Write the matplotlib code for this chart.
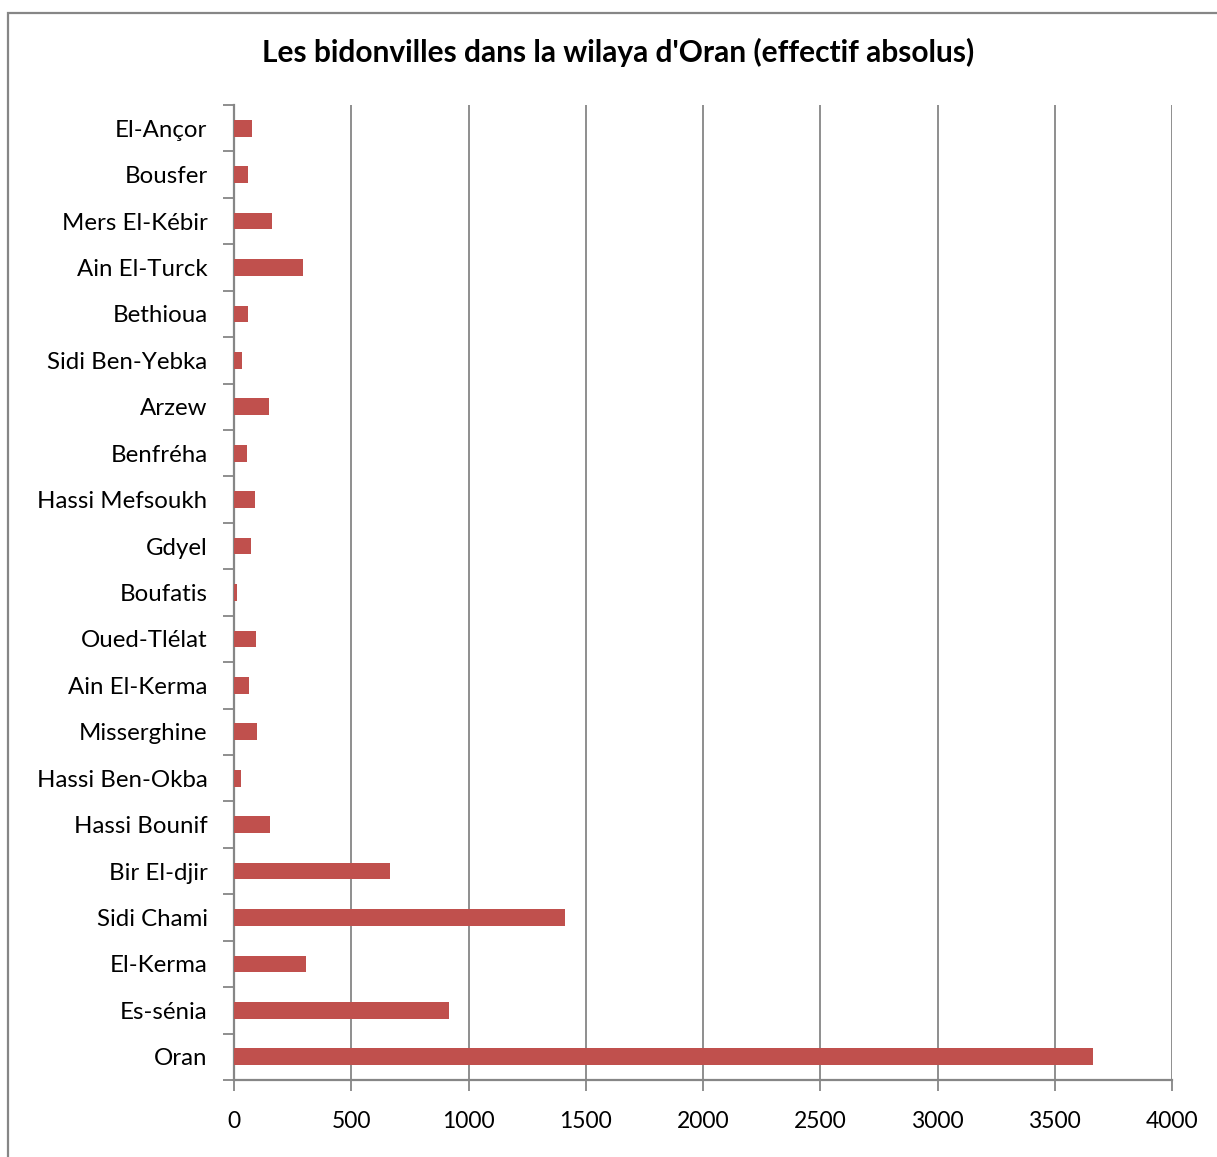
import matplotlib
matplotlib.use("Agg")
import matplotlib.pyplot as plt
from matplotlib.patches import Rectangle
import numpy as np

communes = ["El-Ançor", "Bousfer", "Mers El-Kébir", "Ain El-Turck", "Bethioua",
            "Sidi Ben-Yebka", "Arzew", "Benfréha", "Hassi Mefsoukh", "Gdyel",
            "Boufatis", "Oued-Tlélat", "Ain El-Kerma", "Misserghine", "Hassi Ben-Okba",
            "Hassi Bounif", "Bir El-djir", "Sidi Chami", "El-Kerma", "Es-sénia", "Oran"]
effectif = [77, 58, 161, 295, 58, 34, 148, 54, 90, 71,
            14, 95, 64, 97, 30, 155, 664, 1410, 306, 915, 3664]
x_ticks = [0, 500, 1000, 1500, 2000, 2500, 3000, 3500, 4000]
title = "Les bidonvilles dans la wilaya d'Oran (effectif absolus)"

plt.rcParams['font.family'] = ['Lato', 'DejaVu Sans']

W, H = 1217, 1157
fig = plt.figure(figsize=(W / 100, H / 100), dpi=100)
fig.patch.set_facecolor("white")

# chart area border
fig.patches.append(Rectangle((8 / W, -0.05), 1.1, (H - 13) / H + 0.05,
                             transform=fig.transFigure, fill=False,
                             edgecolor="#868686", linewidth=1.6, clip_on=False))

left, right, top, bottom = 234, 1172, 105, 1080
ax = fig.add_axes([left / W, 1 - bottom / H, (right - left) / W, (bottom - top) / H])

n = len(communes)
ypos = np.arange(n)[::-1]
ax.barh(ypos, effectif, height=0.36, color="#C0504D", zorder=3)

ax.set_xlim(0, 4000)
ax.set_ylim(-0.5, n - 0.5)
ax.set_xticks(x_ticks)
ax.set_xticklabels([str(v) for v in x_ticks])
ax.set_yticks(ypos)
ax.set_yticklabels(communes)
ax.set_yticks(np.arange(n + 1) - 0.5, minor=True)

ax.grid(axis="x", color="#868686", linewidth=1.3, zorder=0)
for s in ["top", "right"]:
    ax.spines[s].set_visible(False)
for s in ["left", "bottom"]:
    ax.spines[s].set_color("#868686")
    ax.spines[s].set_linewidth(1.6)

ax.tick_params(axis="y", which="major", length=0, pad=19, labelsize=17.3, labelcolor="black")
ax.tick_params(axis="y", which="minor", length=8, width=1.3, color="#868686")
ax.tick_params(axis="x", which="major", length=8, width=1.3, color="#868686",
               pad=14, labelsize=16.5, labelcolor="black")

fig.text(618 / W, 1 - 52 / H, title, ha="center", va="center",
         fontsize=21.5, fontweight="bold")

fig.savefig("out.png", dpi=100)
